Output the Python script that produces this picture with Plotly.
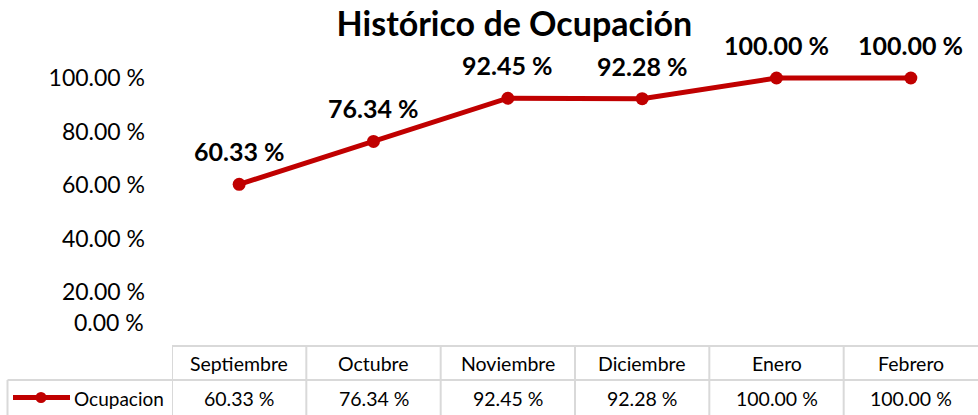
import plotly.graph_objects as go

categories = ["Septiembre", "Octubre", "Noviembre", "Diciembre", "Enero", "Febrero"]
ocupacion = [60.33, 76.34, 92.45, 92.28, 100.00, 100.00]
series_name = "Ocupacion"
title_text = "Histórico de Ocupación"
y_ticks = [20, 40, 60, 80, 100]
y_zero_label = "0.00 %"

W, H = 978, 415
RED = "#C00000"
GRID = "#D9D9D9"
FONT = "Lato"

def fmt(v):
    return f"{v:.2f} %"

def py(p):  # pixel from top -> paper
    return (H - p) / H

def px(p):
    return p / W

x_left = 172
y_zero_px = 346
y_hundred_px = 78
y_max = 106
y_top_px = y_zero_px - (y_zero_px - y_hundred_px) * y_max / 100
row1_bottom = 380

fig = go.Figure()
fig.add_trace(go.Scatter(
    x=list(range(len(categories))), y=ocupacion, mode="lines+markers",
    line=dict(color=RED, width=5), marker=dict(color=RED, size=13),
    cliponaxis=False, showlegend=False, name=series_name, hoverinfo="skip",
))

annotations = []
for i, v in enumerate(ocupacion):
    annotations.append(dict(x=i, y=v, xref="x", yref="y", text=fmt(v), showarrow=False,
                            yshift=33, yanchor="middle",
                            font=dict(family=FONT, size=25, color="#000000", weight="bold")))
    annotations.append(dict(x=i, y=py((y_zero_px + row1_bottom) / 2), xref="x", yref="paper",
                            text=categories[i], showarrow=False, yanchor="middle",
                            font=dict(family=FONT, size=19.5, color="#000000")))
    annotations.append(dict(x=i, y=py(398), xref="x", yref="paper",
                            text=fmt(v), showarrow=False, yanchor="middle",
                            font=dict(family=FONT, size=19.5, color="#000000")))

annotations.append(dict(x=px(72), y=py(398), xref="paper", yref="paper", xanchor="left",
                        yanchor="middle", text=series_name, showarrow=False,
                        font=dict(family=FONT, size=19, color="#000000")))
annotations.append(dict(x=px(146), y=py(322), xref="paper", yref="paper", xanchor="right",
                        yanchor="middle", text=y_zero_label, showarrow=False,
                        font=dict(family=FONT, size=23, color="#000000")))

n = len(categories)
shapes = []
line_style = dict(color=GRID, width=2)
shapes.append(dict(type="line", xref="x", yref="paper", x0=-0.5, x1=n - 0.5,
                   y0=py(y_zero_px), y1=py(y_zero_px), line=line_style))
shapes.append(dict(type="line", xref="paper", yref="paper", x0=px(7.5), x1=1,
                   y0=py(row1_bottom), y1=py(row1_bottom), line=line_style))
for k in range(n):
    shapes.append(dict(type="line", xref="x", yref="paper", x0=k - 0.5, x1=k - 0.5,
                       y0=py(y_zero_px), y1=0, line=line_style))
shapes.append(dict(type="line", xref="paper", yref="paper", x0=px(7.5), x1=px(7.5),
                   y0=py(row1_bottom), y1=0, line=line_style))
shapes.append(dict(type="line", xref="paper", yref="paper", x0=px(13), x1=px(70),
                   y0=py(397.5), y1=py(397.5), line=dict(color=RED, width=5)))
shapes.append(dict(type="circle", xref="paper", yref="paper", x0=px(41 - 5.5), x1=px(41 + 5.5),
                   y0=py(397.5 + 5.5), y1=py(397.5 - 5.5), fillcolor=RED, line=dict(color=RED, width=0)))

fig.update_layout(
    width=W, height=H, margin=dict(l=0, r=0, t=0, b=0, autoexpand=False),
    paper_bgcolor="white", plot_bgcolor="white",
    title=dict(text=title_text, x=0.526, xanchor="center", y=py(24), yanchor="middle",
               font=dict(family=FONT, size=34, color="#000000", weight="bold")),
    xaxis=dict(domain=[px(x_left), 1], range=[-0.5, n - 0.5], showgrid=False, zeroline=False,
               showticklabels=False, showline=False, fixedrange=True, automargin=False),
    yaxis=dict(domain=[py(y_zero_px), py(y_top_px)], range=[0, y_max], showgrid=False, zeroline=False,
               tickvals=y_ticks, ticktext=[fmt(t) for t in y_ticks], ticks="",
               ticklabelstandoff=26, showline=False, automargin=False, fixedrange=True,
               tickfont=dict(family=FONT, size=23, color="#000000")),
    annotations=annotations, shapes=shapes, showlegend=False,
)

fig.write_html("out.html", config={"displayModeBar": False},
               post_script="document.body.style.margin='0';")
